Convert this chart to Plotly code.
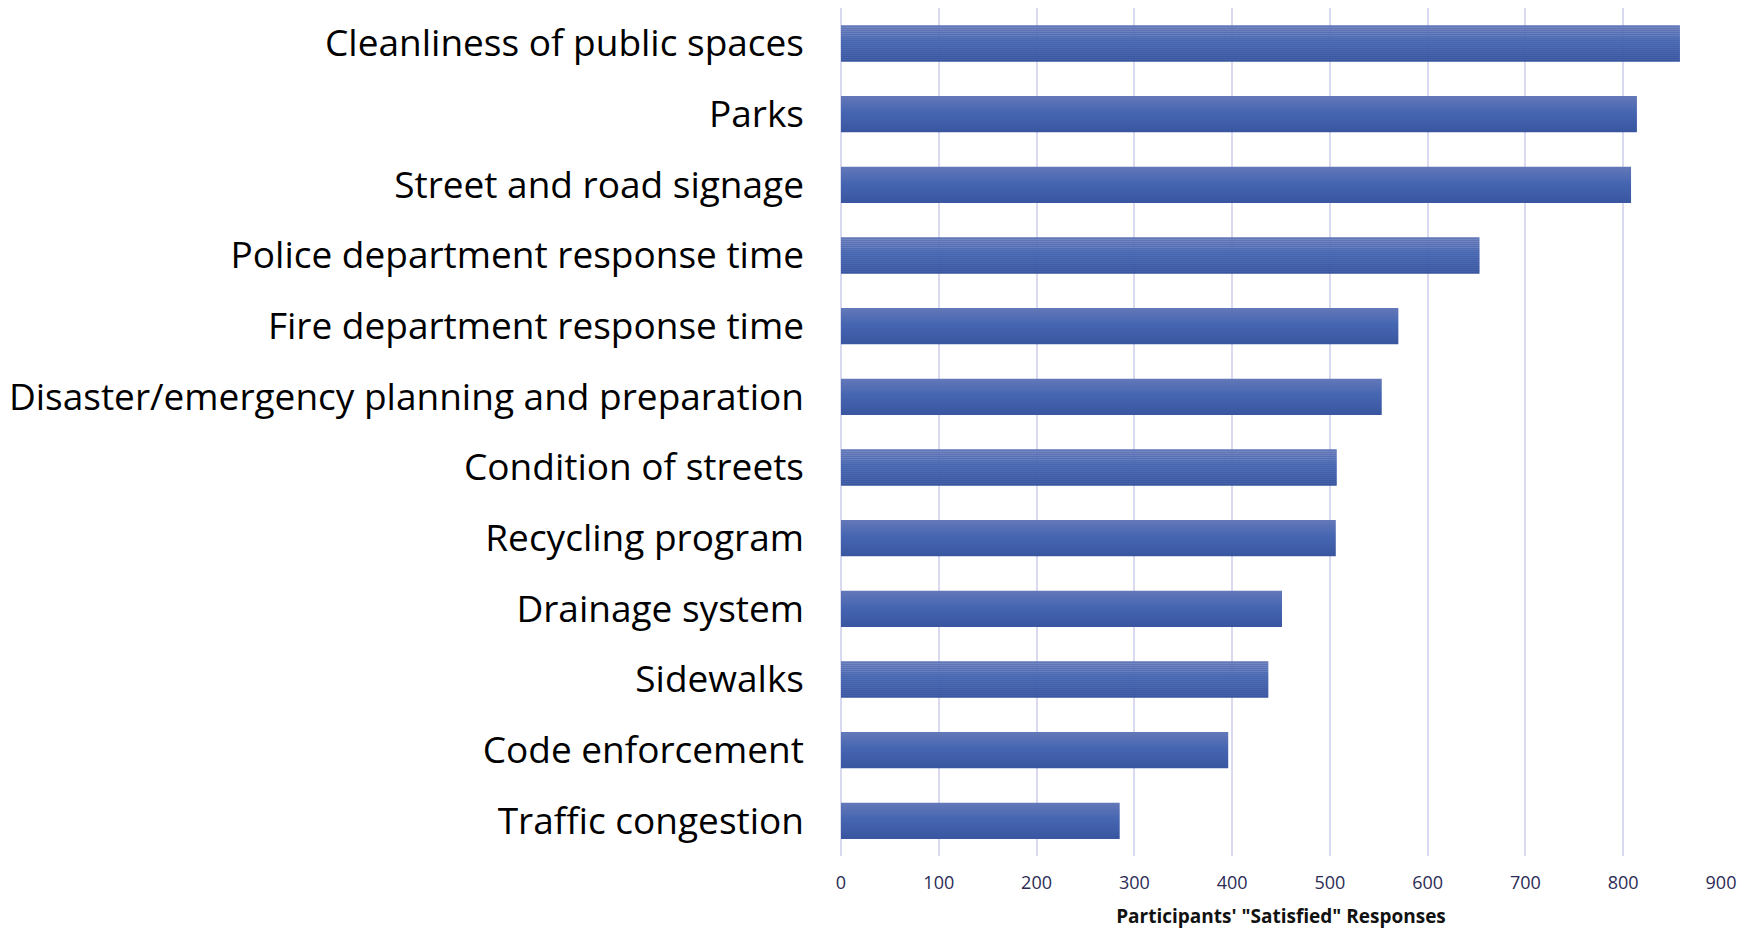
import plotly.graph_objects as go

categories = [
    "Cleanliness of public spaces",
    "Parks",
    "Street and road signage",
    "Police department response time",
    "Fire department response time",
    "Disaster/emergency planning and preparation",
    "Condition of streets",
    "Recycling program",
    "Drainage system",
    "Sidewalks",
    "Code enforcement",
    "Traffic congestion",
]
satisfied = [858, 814, 808, 653, 570, 553, 507, 506, 451, 437, 396, 285]
x_ticks = [0, 100, 200, 300, 400, 500, 600, 700, 800, 900]
x_title = "Participants' \"Satisfied\" Responses"

# vertical gradient of the bars (top -> middle -> bottom)
grad_stops = [(0.0, (0x64, 0x78, 0xB8)), (0.45, (0x46, 0x66, 0xB1)), (1.0, (0x39, 0x55, 0xA0))]


def grad_color(t):
    for (t0, c0), (t1, c1) in zip(grad_stops[:-1], grad_stops[1:]):
        if t <= t1:
            f = (t - t0) / (t1 - t0)
            return "rgb(%d,%d,%d)" % tuple(round(a + (b - a) * f) for a, b in zip(c0, c1))
    return "rgb(%d,%d,%d)" % grad_stops[-1][1]


bar_w = 0.51
n_strips = 18
strip_w = bar_w / n_strips

fig = go.Figure()
for k in range(n_strips):
    fig.add_trace(go.Bar(
        y=categories,
        x=satisfied,
        orientation="h",
        width=strip_w * 1.15,
        offset=-bar_w / 2 + k * strip_w,
        marker=dict(color=grad_color((k + 0.5) / n_strips), line=dict(width=0)),
        hoverinfo="x+y" if k == n_strips // 2 else "skip",
        showlegend=False,
    ))

# page body has an 8px default margin: compensate
fig.update_layout(
    width=1752, height=921,
    margin=dict(l=833, r=39, t=0, b=73),
    plot_bgcolor="white",
    paper_bgcolor="white",
    barmode="overlay",
    showlegend=False,
    font=dict(family="Open Sans", color="#000000"),
)
fig.update_xaxes(
    range=[0, 900],
    tickvals=x_ticks,
    showgrid=True,
    gridcolor="#D9D9F0",
    gridwidth=1.5,
    zeroline=True,
    zerolinecolor="#D9D9F0",
    zerolinewidth=1.5,
    showline=False,
    ticklabelstandoff=14,
    tickfont=dict(family="Open Sans", size=18, color="#2B2B55"),
    title=dict(text="<b>" + x_title + "</b>", font=dict(family="Open Sans", size=19, color="#111111"), standoff=20),
)
fig.update_yaxes(
    categoryorder="array",
    categoryarray=categories,
    autorange="reversed",
    showgrid=False,
    tickfont=dict(family="Open Sans", size=37, color="#000000"),
    ticklabelstandoff=36,
)

fig.write_html("out.html")
